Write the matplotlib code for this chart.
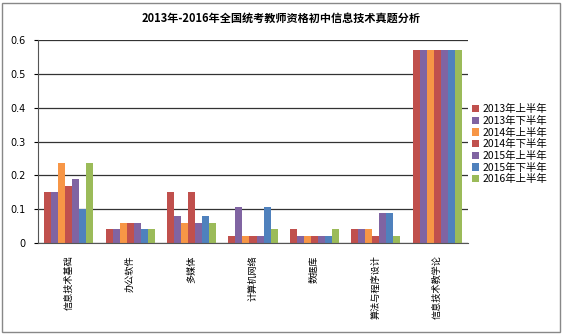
import matplotlib.pyplot as plt
import numpy as np
from matplotlib.patches import Rectangle

plt.rcParams['font.family'] = ['Noto Sans CJK SC', 'DejaVu Sans']

categories = ['信息技术基础', '办公软件', '多媒体', '计算机网络', '数据库', '算法与程序设计', '信息技术教学论']
series_names = ['2013年上半年', '2013年下半年', '2014年上半年', '2014年下半年',
                '2015年上半年', '2015年下半年', '2016年上半年']
s2013a = [0.15, 0.04, 0.15, 0.02, 0.04, 0.04, 0.57]
s2013b = [0.15, 0.04, 0.08, 0.107, 0.02, 0.04, 0.57]
s2014a = [0.235, 0.06, 0.06, 0.02, 0.02, 0.04, 0.57]
s2014b = [0.167, 0.06, 0.15, 0.02, 0.02, 0.02, 0.57]
s2015a = [0.188, 0.06, 0.06, 0.02, 0.02, 0.088, 0.57]
s2015b = [0.10, 0.04, 0.08, 0.107, 0.02, 0.088, 0.57]
s2016a = [0.235, 0.04, 0.06, 0.04, 0.04, 0.02, 0.57]
series = [s2013a, s2013b, s2014a, s2014b, s2015a, s2015b, s2016a]
colors = ['#C0504D', '#8064A2', '#F79646', '#C0504D', '#8064A2', '#4F81BD', '#9BBB59']

fig = plt.figure(figsize=(5.63, 3.34), dpi=100)
ax = fig.add_axes([38 / 563, 1 - 243 / 334, (468 - 38) / 563, (243 - 40) / 334])

n = len(series)
w = 0.8 / n
x = np.arange(len(categories))
for i, (vals, c, name) in enumerate(zip(series, colors, series_names)):
    ax.bar(x - 0.4 + w * (i + 0.5), vals, w, color=c, label=name, linewidth=0)

ax.set_xlim(-0.5, len(categories) - 0.5)
ax.set_ylim(0, 0.6)
ax.set_yticks(np.arange(0, 0.61, 0.1))
ax.set_yticklabels(['0', '0.1', '0.2', '0.3', '0.4', '0.5', '0.6'], fontsize=7, family='DejaVu Sans')
ax.yaxis.grid(True, color='#333333', linewidth=0.9)
ax.set_axisbelow(True)
ax.set_xticks(x)
ax.set_xticklabels(categories, rotation=90, fontsize=6.6, va='top', ha='center')
ax.tick_params(axis='x', length=0, pad=9)
ax.tick_params(axis='y', length=3, pad=6)
for s in ['top', 'right']:
    ax.spines[s].set_visible(False)
ax.spines['left'].set_color('#555555')
ax.spines['bottom'].set_color('#555555')

fig.text(0.5, 1 - 18 / 334, '2013年-2016年全国统考教师资格初中信息技术真题分析',
         ha='center', va='center', fontsize=8, fontweight='bold')

fig.legend(loc='upper left', bbox_to_anchor=(468 / 563, 1 - 100 / 334), frameon=False,
           fontsize=7.5, handlelength=0.7, handleheight=0.7, handletextpad=0.3,
           labelspacing=0.15, borderaxespad=0)

fig.patches.append(Rectangle((2 / 563, 2 / 334), 558 / 563, 329 / 334, transform=fig.transFigure,
                             fill=False, edgecolor='#888888', linewidth=1))

fig.savefig('out.png', dpi=100)
